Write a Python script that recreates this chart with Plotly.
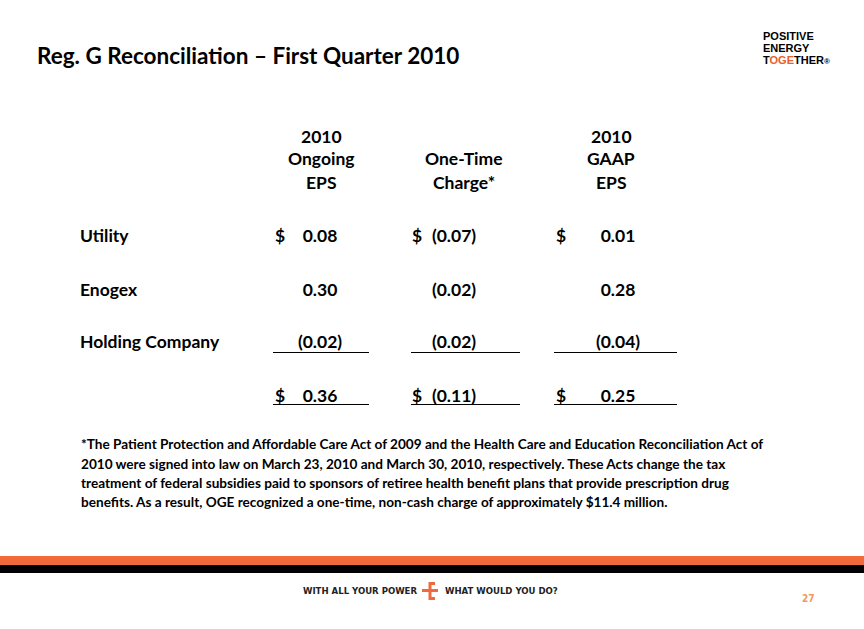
import plotly.graph_objects as go

# ---- data ----
segments = ["Utility", "Enogex", "Holding Company"]
ongoing_eps = [0.08, 0.30, -0.02]
one_time_charge = [-0.07, -0.02, -0.02]
gaap_eps = [0.01, 0.28, -0.04]
totals = [0.36, -0.11, 0.25]
col_headers = [["2010", "Ongoing", "EPS"], ["One-Time", "Charge*"], ["2010", "GAAP", "EPS"]]

title = "Reg. G Reconciliation – First Quarter 2010"
footnote_lines = [
    "*The Patient Protection and Affordable Care Act of 2009 and the Health Care and Education Reconciliation Act of",
    "2010 were signed into law on March 23, 2010 and March 30, 2010, respectively. These Acts change the tax",
    "treatment of federal subsidies paid to sponsors of retiree health benefit plans that provide prescription drug",
    "benefits. As a result, OGE recognized a one-time, non-cash charge of approximately $11.4 million.",
]

FONT = "Lato"
TS = 17.5
W, H = 864, 629
col_x = [320, 454, 618]
dollar_x = [280, 417, 561]
header_x = [321, 464, 611]
row_y = [238, 292, 344]
total_y = 398
line_spans = [(273, 369), (411, 520), (554, 677)]


def fmt(v):
    return f"({abs(v):.2f})" if v < 0 else f"{v:.2f}"


fig = go.Figure()

# row labels
fig.add_trace(go.Scatter(x=[80] * len(segments), y=row_y, text=segments, mode="text",
                         textposition="middle right",
                         textfont=dict(family=FONT, size=TS, color="black"),
                         hoverinfo="skip", showlegend=False))

cols = [ongoing_eps, one_time_charge, gaap_eps]
for ci, vals in enumerate(cols):
    fig.add_trace(go.Scatter(x=[col_x[ci]] * (len(vals) + 1),
                             y=row_y + [total_y],
                             text=[fmt(v) for v in vals] + [fmt(totals[ci])],
                             mode="text", textposition="middle center",
                             textfont=dict(family=FONT, size=TS, color="black"),
                             hoverinfo="skip", showlegend=False))
    fig.add_trace(go.Scatter(x=[dollar_x[ci], dollar_x[ci]], y=[row_y[0], total_y],
                             text=["$", "$"], mode="text", textposition="middle center",
                             textfont=dict(family=FONT, size=TS, color="black"),
                             hoverinfo="skip", showlegend=False))

annotations = []
# headers (one annotation per line)
for ci, lines in enumerate(col_headers):
    ys = [136, 158, 182] if len(lines) == 3 else [158, 182]
    for txt, yy in zip(lines, ys):
        annotations.append(dict(x=header_x[ci], y=yy, text=txt, showarrow=False,
                                xref="x", yref="y", xanchor="center", yanchor="middle",
                                font=dict(family=FONT, size=TS, color="black")))

# title
annotations.append(dict(x=35, y=55, text=title, showarrow=False, xref="x", yref="y",
                        xanchor="left", yanchor="middle", font=dict(family=FONT, size=22.5, color="black")))

# footnote
for txt, yy in zip(footnote_lines, [444, 464, 483, 502]):
    annotations.append(dict(x=79, y=yy, text=txt, showarrow=False, xref="x", yref="y",
                            xanchor="left", yanchor="middle", align="left",
                            font=dict(family=FONT, size=13.6, color="black")))

# logo
for txt, yy in zip(["POSITIVE", "ENERGY",
                    "T<span style='color:#E8602C'>OGE</span>THER<span style='font-size:8px'>®</span>"],
                   [36, 48, 60]):
    annotations.append(dict(x=761, y=yy, text=txt,
                            showarrow=False, xref="x", yref="y", xanchor="left", yanchor="middle", align="left",
                            font=dict(family="Liberation Sans", size=11, color="black")))

# footer text
annotations.append(dict(x=419, y=590, text="WITH ALL YOUR POWER", showarrow=False, xref="x", yref="y",
                        xanchor="right", yanchor="middle",
                        font=dict(family="DejaVu Sans Condensed", size=9.5, color="#222")))
annotations.append(dict(x=443, y=590, text="WHAT WOULD YOU DO?", showarrow=False, xref="x", yref="y",
                        xanchor="left", yanchor="middle",
                        font=dict(family="DejaVu Sans Condensed", size=9.5, color="#222")))
annotations.append(dict(x=808, y=598, text="27", showarrow=False, xref="x", yref="y",
                        xanchor="center", yanchor="middle",
                        font=dict(family="DejaVu Sans Condensed", size=10, color="#F0985E")))

shapes = []
for (x0, x1) in line_spans:
    for yy in (352.5, 404.5):
        shapes.append(dict(type="line", x0=x0, x1=x1, y0=yy, y1=yy, xref="x", yref="y",
                           line=dict(color="black", width=1)))
# bars
shapes.append(dict(type="rect", x0=0, x1=W, y0=556, y1=565, xref="x", yref="y",
                   fillcolor="#F26A3A", line=dict(width=0)))
shapes.append(dict(type="rect", x0=0, x1=W, y0=565, y1=573, xref="x", yref="y",
                   fillcolor="black", line=dict(width=0)))
# E icon
orange = "#EE6A3E"
for (x0, x1, y0, y1) in [(429, 435, 582, 585), (422, 438, 589, 592), (428.5, 431.5, 582, 600), (429, 435, 597, 600)]:
    shapes.append(dict(type="rect", x0=x0, x1=x1, y0=y0, y1=y1, xref="x", yref="y",
                       fillcolor=orange, line=dict(width=0)))

fig.update_layout(
    width=W, height=H, margin=dict(l=0, r=0, t=0, b=0),
    paper_bgcolor="white", plot_bgcolor="white",
    xaxis=dict(range=[0, W], visible=False, fixedrange=True),
    yaxis=dict(range=[H, 0], visible=False, fixedrange=True),
    font=dict(family=FONT, color="black"),
    annotations=annotations, shapes=shapes, showlegend=False,
)
# make text bold
for tr in fig.data:
    tr.textfont.weight = "bold"
for a in fig.layout.annotations:
    a.font.weight = "bold"

fig.write_html("out.html", config={"displayModeBar": False},
               post_script="document.body.style.margin='0';document.body.style.overflow='hidden';")
